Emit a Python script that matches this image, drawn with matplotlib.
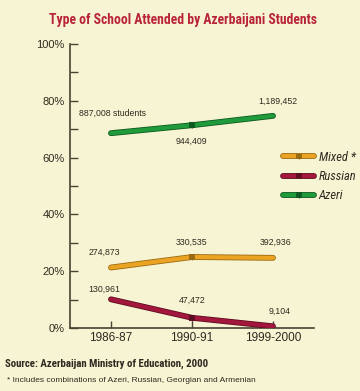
import matplotlib.pyplot as plt
import matplotlib.patheffects as pe

# data
years = ["1986-87", "1990-91", "1999-2000"]
azeri_pct = [68.6, 71.4, 74.7]
mixed_pct = [21.3, 25.0, 24.7]
russian_pct = [10.1, 3.6, 0.6]
azeri_lbl = ["887,008 students", "944,409", "1,189,452"]
mixed_lbl = ["274,873", "330,535", "392,936"]
russian_lbl = ["130,961", "47,472", "9,104"]
yticks = [0, 20, 40, 60, 80, 100]

bg = "#f7f4d4"
ink = "#2e2a20"
axis_col = "#4a4232"
series = [
    ("Mixed *", mixed_pct, mixed_lbl, "#eba324", "#9a6a10",
     [(-7, 15), (0, 15), (3, 16)]),
    ("Russian", russian_pct, russian_lbl, "#a3173c", "#5e0c22",
     [(-7, 10), (0, 17), (7, 15)]),
    ("Azeri", azeri_pct, azeri_lbl, "#1f9b3c", "#0e5a20",
     [(2, 20), (-1, -16), (5, 15)]),
]

plt.rcParams["font.family"] = ["Liberation Sans", "DejaVu Sans"]
narrow = ["Roboto Condensed", "Archivo Narrow", "Liberation Sans", "DejaVu Sans"]

fig = plt.figure(figsize=(3.6, 3.91), dpi=100, facecolor=bg)
ax = fig.add_axes([70 / 360, 63 / 391, 244 / 360, 284 / 391])
ax.set_facecolor(bg)

x = list(range(len(years)))
handles = []
for name, vals, lbls, col, dark, offs in series:
    ln, = ax.plot(x, vals, color=col, lw=3.0, solid_capstyle="round",
                  marker="|", markevery=[1], ms=4, mec=dark, mew=0.8,
                  label=name, zorder=3,
                  path_effects=[pe.Stroke(linewidth=4.2, foreground=dark), pe.Normal()])
    handles.append(ln)
    for xi, v, t, o in zip(x, vals, lbls, offs):
        ax.annotate(t, (xi, v), xytext=o, textcoords="offset pixels",
                    ha="center", va="center", fontsize=6.3, color=ink)

ax.set_xlim(-0.506, 2.506)
ax.set_ylim(0, 100)
ax.set_yticks(yticks)
ax.set_yticklabels(["%d%%" % t for t in yticks])
ax.set_yticks([10, 30, 50, 70, 90], minor=True)
ax.set_xticks(x)
ax.set_xticklabels(years)
ax.tick_params(axis="y", which="both", direction="in", length=6, width=1,
               color=axis_col, labelsize=8, labelcolor=ink, pad=4)
ax.tick_params(axis="x", direction="in", length=5, width=1,
               color=axis_col, labelsize=8.5, labelcolor=ink, pad=3)
for s in ["top", "right"]:
    ax.spines[s].set_visible(False)
for s in ["left", "bottom"]:
    ax.spines[s].set_color(axis_col)
    ax.spines[s].set_linewidth(1.2)

leg = ax.legend(handles=handles, loc="upper left", bbox_to_anchor=(0.873, 0.624),
                frameon=False, borderpad=0, borderaxespad=0,
                handlelength=2.5, handletextpad=0.35, labelspacing=0.5,
                prop={"family": narrow, "style": "italic", "size": 9})
for t in leg.get_texts():
    t.set_color(ink)

fig.text(183 / 360, 1 - 20 / 391, "Type of School Attended by Azerbaijani Students",
         ha="center", va="center", color="#b8233a", fontsize=9.8,
         family=narrow, weight="bold")
fig.text(5 / 360, 1 - 364 / 391, "Source: Azerbaijan Ministry of Education, 2000",
         ha="left", va="center", color=ink, fontsize=7.8, family=narrow, weight="bold")
fig.text(7 / 360, 1 - 380 / 391,
         "* Includes combinations of Azeri, Russian, Georgian and Armenian",
         ha="left", va="center", color=ink, fontsize=6.0)

fig.savefig("out.png", dpi=100, facecolor=bg)
